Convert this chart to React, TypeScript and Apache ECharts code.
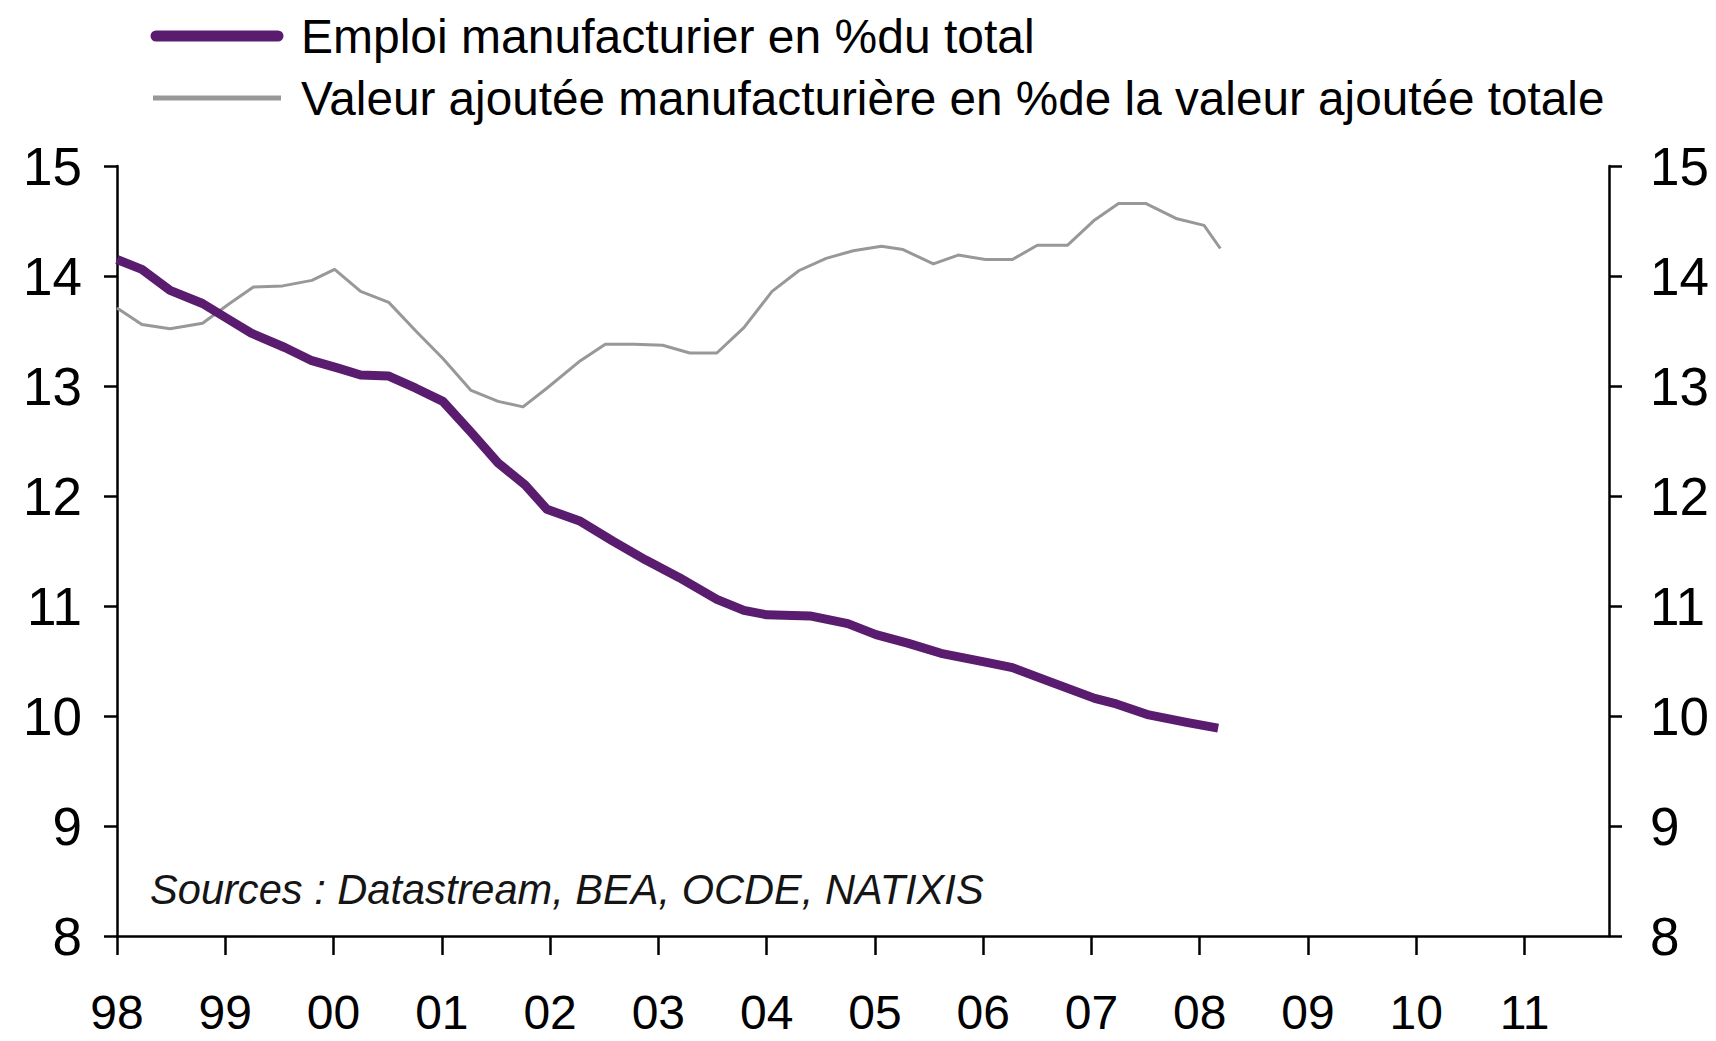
import React, { useEffect, useRef } from "react";
import * as echarts from "echarts";

// Manufacturing employment share (% of total) — purple
const empYears = [1998.0, 1998.23, 1998.49, 1998.79, 1999.04, 1999.24, 1999.55, 1999.8, 2000.05, 2000.25, 2000.51, 2000.76, 2001.01, 2001.27, 2001.52, 2001.77, 2001.97, 2002.28, 2002.58, 2002.88, 2003.19, 2003.54, 2003.79, 2004.0, 2004.4, 2004.75, 2005.01, 2005.31, 2005.61, 2006.02, 2006.27, 2006.62, 2007.03, 2007.23, 2007.53, 2007.89, 2008.17];
const empValues = [14.15, 14.06, 13.87, 13.75, 13.6, 13.48, 13.35, 13.23, 13.16, 13.1, 13.09, 12.98, 12.86, 12.58, 12.3, 12.1, 11.88, 11.77, 11.59, 11.42, 11.26, 11.06, 10.96, 10.92, 10.91, 10.84, 10.74, 10.66, 10.57, 10.49, 10.44, 10.31, 10.16, 10.11, 10.01, 9.94, 9.89];

// Manufacturing value added share (% of total value added) — grey
const vaYears = [1998.0, 1998.23, 1998.49, 1998.79, 1999.04, 1999.26, 1999.53, 1999.8, 2000.01, 2000.25, 2000.51, 2000.76, 2001.01, 2001.27, 2001.52, 2001.75, 2001.97, 2002.28, 2002.51, 2002.78, 2003.04, 2003.29, 2003.54, 2003.79, 2004.05, 2004.3, 2004.55, 2004.8, 2005.06, 2005.26, 2005.54, 2005.77, 2006.02, 2006.27, 2006.5, 2006.78, 2007.03, 2007.25, 2007.5, 2007.79, 2008.04, 2008.19];
const vaValues = [13.71, 13.56, 13.52, 13.57, 13.75, 13.9, 13.91, 13.96, 14.06, 13.86, 13.76, 13.5, 13.25, 12.96, 12.86, 12.81, 12.98, 13.23, 13.38, 13.38, 13.37, 13.3, 13.3, 13.53, 13.86, 14.05, 14.16, 14.23, 14.27, 14.24, 14.11, 14.19, 14.15, 14.15, 14.28, 14.28, 14.51, 14.66, 14.66, 14.52, 14.46, 14.25];

const xTickYears = [1998, 1999, 2000, 2001, 2002, 2003, 2004, 2005, 2006, 2007, 2008, 2009, 2010, 2011];
const xMin = 1998;
const xMax = 2011.78;
const yMin = 8;
const yMax = 15;

const legendNames = [
  "Emploi manufacturier en %du total",
  "Valeur ajoutée manufacturière en %de la valeur ajoutée totale",
];
const sourceText = "Sources : Datastream, BEA, OCDE, NATIXIS";

const FONT = '"Liberation Sans", Arial, Helvetica, sans-serif';
const PURPLE = "#5a1c6e";
const GREY = "#989898";

export default function App() {
  const ref = useRef<HTMLDivElement>(null);

  useEffect(() => {
    if (!ref.current) return;
    const chart = echarts.init(ref.current, null, { renderer: "svg" });

    const yAxisCommon = (pos: "left" | "right", margin: number) => ({
      type: "value",
      position: pos,
      min: yMin,
      max: yMax,
      interval: 1,
      splitLine: { show: false },
      axisLine: { show: true, lineStyle: { color: "#000", width: 2.5 } },
      axisTick: { show: true, inside: false, length: 13, lineStyle: { color: "#000", width: 2.5 } },
      axisLabel: {
        margin,
        fontSize: 53,
        fontFamily: FONT,
        color: "#000",
      },
    });

    chart.setOption({
      animation: false,
      backgroundColor: "#fff",
      grid: { left: 117, right: 107, top: 166, bottom: 105 },
      xAxis: {
        type: "value",
        min: xMin,
        max: xMax,
        interval: 1,
        splitLine: { show: false },
        axisLine: { show: true, onZero: false, lineStyle: { color: "#000", width: 2.5 } },
        axisTick: {
          show: true,
          length: 19,
          customValues: xTickYears,
          lineStyle: { color: "#000", width: 2.5 },
        },
        axisLabel: {
          customValues: xTickYears,
          margin: 55,
          fontSize: 48,
          lineHeight: 42,
          fontFamily: FONT,
          color: "#000",
          formatter: (v: number) => String(Math.round(v) % 100).padStart(2, "0"),
        },
      },
      yAxis: [yAxisCommon("left", 35), yAxisCommon("right", 41)],
      series: [
        {
          name: legendNames[0],
          type: "line",
          yAxisIndex: 0,
          data: empYears.map((t, i) => [t, empValues[i]]),
          showSymbol: false,
          symbol: "none",
          lineStyle: { color: PURPLE, width: 9, join: "round", cap: "butt" },
          z: 3,
        },
        {
          name: legendNames[1],
          type: "line",
          yAxisIndex: 1,
          data: vaYears.map((t, i) => [t, vaValues[i]]),
          showSymbol: false,
          symbol: "none",
          lineStyle: { color: GREY, width: 3, join: "round" },
          z: 2,
        },
      ],
      graphic: [
        {
          type: "line",
          shape: { x1: 156, y1: 36, x2: 278, y2: 36 },
          style: { stroke: PURPLE, lineWidth: 11, lineCap: "round" },
        },
        {
          type: "text",
          x: 301,
          y: 36,
          style: {
            text: legendNames[0],
            fontSize: 48,
            fontFamily: FONT,
            fill: "#000",
            align: "left",
            verticalAlign: "middle",
          },
        },
        {
          type: "line",
          shape: { x1: 153, y1: 98, x2: 281, y2: 98 },
          style: { stroke: GREY, lineWidth: 5 },
        },
        {
          type: "text",
          x: 301,
          y: 98,
          style: {
            text: legendNames[1],
            fontSize: 47.7,
            fontFamily: FONT,
            fill: "#000",
            align: "left",
            verticalAlign: "middle",
          },
        },
        {
          type: "text",
          x: 150,
          y: 889,
          style: {
            text: sourceText,
            fontSize: 41.6,
            fontStyle: "italic",
            fontFamily: FONT,
            fill: "#151515",
            align: "left",
            verticalAlign: "middle",
          },
        },
      ],
    });

    return () => chart.dispose();
  }, []);

  return (
    <div
      ref={ref}
      style={{ position: "fixed", left: 0, top: 0, width: 1716, height: 1041, background: "#fff" }}
    />
  );
}
